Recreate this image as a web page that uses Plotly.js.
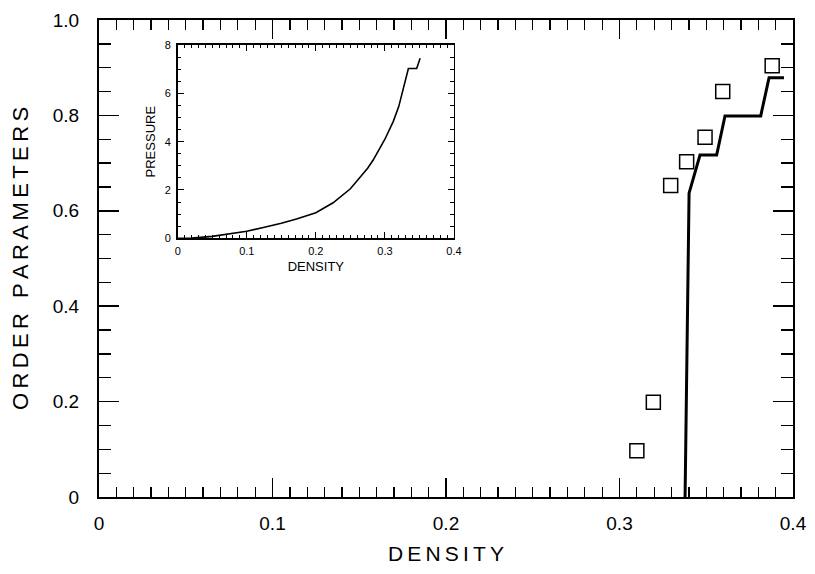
<!DOCTYPE html>
<html>
<head>
<meta charset="utf-8">
<script src="https://cdn.plot.ly/plotly-3.0.1.min.js"></script>
<style>body{margin:0;padding:0;background:#fff}#chart{width:815px;height:574px}</style>
</head>
<body>
<div id="chart"></div>
<script>
// Main panel: order parameter vs density
var lineDensity = [0.3378, 0.3401, 0.3464, 0.356, 0.3608, 0.3814, 0.3862, 0.3948];
var lineOrder   = [0, 0.637, 0.717, 0.717, 0.799, 0.799, 0.879, 0.879];
var squareDensity = [0.310, 0.3195, 0.3295, 0.3387, 0.3493, 0.3595, 0.388];
var squareOrder   = [0.097, 0.1985, 0.653, 0.703, 0.754, 0.850, 0.904];
var mainXTicks = [0, 0.1, 0.2, 0.3, 0.4];
var mainXLabels = ["0", "0.1", "0.2", "0.3", "0.4"];
var mainYTicks = [0, 0.2, 0.4, 0.6, 0.8, 1.0];
var mainYLabels = ["0", "0.2", "0.4", "0.6", "0.8", "1.0"];

// Inset: pressure vs density
var insetDensity  = [0, 0.02, 0.05, 0.076, 0.1, 0.124, 0.15, 0.172, 0.2, 0.225, 0.25, 0.275, 0.283, 0.3, 0.312, 0.32, 0.324, 0.334, 0.346, 0.351];
var insetPressure = [0, 0.01, 0.08, 0.19, 0.29, 0.45, 0.62, 0.8, 1.06, 1.47, 2.05, 2.9, 3.24, 4.1, 4.83, 5.45, 5.93, 7.03, 7.03, 7.45];
var insetXTicks = [0, 0.1, 0.2, 0.3, 0.4];
var insetXLabels = ["0", "0.1", "0.2", "0.3", "0.4"];
var insetYTicks = [0, 2, 4, 6, 8];
var insetYLabels = ["0", "2", "4", "6", "8"];

var FONT = "Liberation Sans, Arial, Helvetica, sans-serif";
function spaced(s) { return s.split("").join("\u2009"); }

var traces = [
  {x: lineDensity, y: lineOrder, mode: "lines", type: "scatter",
   line: {color: "#000", width: 3}, xaxis: "x", yaxis: "y", hoverinfo: "skip"},
  {x: squareDensity, y: squareOrder, mode: "markers", type: "scatter",
   marker: {symbol: "square-open", size: 14, color: "#000", line: {width: 1.5, color: "#000"}},
   xaxis: "x", yaxis: "y", hoverinfo: "skip"},
  {x: insetDensity, y: insetPressure, mode: "lines", type: "scatter",
   line: {color: "#000", width: 1.6, shape: "linear"}, xaxis: "x2", yaxis: "y2", hoverinfo: "skip"}
];

var layout = {
  width: 815, height: 574,
  margin: {l: 99, r: 22, t: 20, b: 77},
  paper_bgcolor: "#fff", plot_bgcolor: "#fff",
  showlegend: false,
  font: {family: FONT, color: "#000"},
  xaxis: {
    domain: [0, 1], range: [0, 0.4], anchor: "y",
    showgrid: false, zeroline: false, showline: true, linecolor: "#000", linewidth: 2,
    mirror: "allticks", ticks: "inside", ticklen: 19, tickwidth: 1.5, tickcolor: "#000",
    tickmode: "array", tickvals: mainXTicks, ticktext: mainXLabels,
    tickfont: {size: 19, family: FONT}, ticklabelstandoff: 8,
    minor: {dtick: 0.01, tick0: 0, ticks: "inside", ticklen: 10, tickwidth: 1.3, tickcolor: "#000", showgrid: false},
    title: {text: spaced("DENSITY"), font: {size: 21, family: FONT}, standoff: 14}
  },
  yaxis: {
    domain: [0, 1], range: [0, 1.0], anchor: "x",
    showgrid: false, zeroline: false, showline: true, linecolor: "#000", linewidth: 2,
    mirror: "allticks", ticks: "inside", ticklen: 20, tickwidth: 1.5, tickcolor: "#000",
    tickmode: "array", tickvals: mainYTicks, ticktext: mainYLabels,
    tickfont: {size: 19, family: FONT}, ticklabelstandoff: 14,
    minor: {dtick: 0.05, tick0: 0, ticks: "inside", ticklen: 12, tickwidth: 1.3, tickcolor: "#000", showgrid: false},
    title: {text: spaced("ORDER") + "\u2009 \u2009" + spaced("PARAMETERS"), font: {size: 22, family: FONT}, standoff: 18}
  },
  xaxis2: {
    domain: [0.1134, 0.5115], range: [0, 0.4], anchor: "y2",
    showgrid: false, zeroline: false, showline: true, linecolor: "#000", linewidth: 1.5,
    mirror: "allticks", ticks: "inside", ticklen: 6, tickwidth: 1, tickcolor: "#000",
    tickmode: "array", tickvals: insetXTicks, ticktext: insetXLabels,
    tickfont: {size: 11, family: FONT}, ticklabelstandoff: 2,
    minor: {dtick: 0.01, tick0: 0, ticks: "inside", ticklen: 3.5, tickwidth: 1, tickcolor: "#000", showgrid: false},
    title: {text: "DENSITY", font: {size: 13, family: FONT}, standoff: 6}
  },
  yaxis2: {
    domain: [0.5423, 0.9476], range: [0, 8], anchor: "x2",
    showgrid: false, zeroline: false, showline: true, linecolor: "#000", linewidth: 1.5,
    mirror: "allticks", ticks: "inside", ticklen: 6, tickwidth: 1, tickcolor: "#000",
    tickmode: "array", tickvals: insetYTicks, ticktext: insetYLabels,
    tickfont: {size: 11, family: FONT}, ticklabelstandoff: 3,
    minor: {dtick: 0.5, tick0: 0, ticks: "inside", ticklen: 3.5, tickwidth: 1, tickcolor: "#000", showgrid: false},
    title: {text: "PRESSURE", font: {size: 13, family: FONT}, standoff: 6}
  }
};

Plotly.newPlot("chart", traces, layout, {staticPlot: true, displayModeBar: false});
</script>
</body>
</html>
